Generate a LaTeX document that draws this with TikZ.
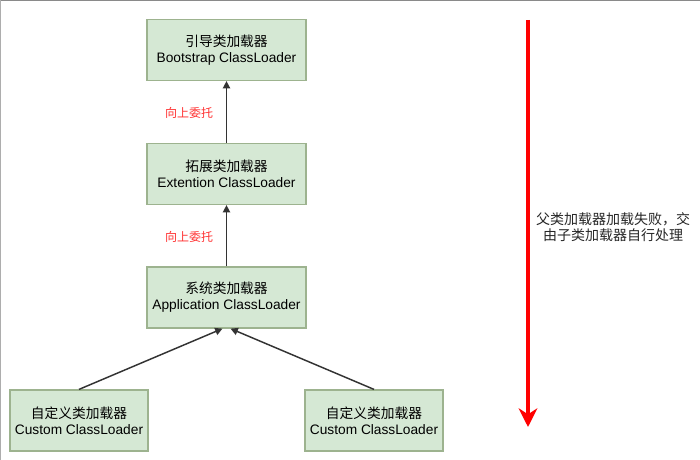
\documentclass[tikz,border=0pt]{standalone}
\usepackage{fontspec}
\setmainfont{Liberation Sans}
\newfontfamily\cjk{Noto Sans CJK SC}
\usetikzlibrary{arrows.meta}
\definecolor{boxfill}{HTML}{D5E8D4}
\definecolor{boxline}{HTML}{9DB38F}
\definecolor{lbl}{HTML}{FF3333}
\definecolor{edge}{HTML}{333333}
\definecolor{frame}{HTML}{8A8A8A}
\begin{document}
\begin{tikzpicture}[x=0.75pt,y=-0.75pt,
  loader/.style={draw=boxline, line width=0.9pt, fill=boxfill, align=center, inner sep=0pt,
    minimum width=159*0.75pt, minimum height=61*0.75pt, font=\fontsize{10.3pt}{12pt}\selectfont},
  small/.style={loader, minimum width=138*0.75pt},
  up/.style={draw=edge, line width=1.1pt, -{Triangle[width=5.5pt,length=5.5pt]}},
  uplabel/.style={text=lbl, font=\cjk\fontsize{9pt}{11pt}\selectfont},
  note/.style={align=center, text=black!85, font=\cjk\fontsize{10.5pt}{11.5pt}\selectfont}]
\useasboundingbox (0,0) rectangle (700,460);
\fill[white] (0,0) rectangle (700,460);
\draw[frame, line width=1.5pt] (0,0.5) -- (700,0.5);
\draw[frame!70, line width=0.75pt] (0.5,0) -- (0.5,460);

\node[loader] (boot) at (226.5,50) {{\cjk 引导类加载器}\\Bootstrap ClassLoader};
\node[loader] (ext) at (226.5,174) {{\cjk 拓展类加载器}\\Extention ClassLoader};
\node[loader] (app) at (226.5,297.5) {{\cjk 系统类加载器}\\Application ClassLoader};
\node[small] (cl) at (79,420.5) {{\cjk 自定义类加载器}\\Custom ClassLoader};
\node[small] (cr) at (374,420.5) {{\cjk 自定义类加载器}\\Custom ClassLoader};

\draw[up] (ext.north) -- (boot.south);
\draw[up] (app.north) -- (ext.south);
\draw[up] (cl.north) -- ([xshift=-3pt]app.south);
\draw[up] (cr.north) -- ([xshift=3pt]app.south);

\node[uplabel] (l1) at (189,113) {向上委托};
\node[uplabel] (l2) at (189,237) {向上委托};

\coordinate (rtop) at (528,20);
\coordinate (rbot) at (528,427);
\draw[red, line width=2.4pt, -{Stealth[width=14pt,length=14pt,inset=4.5pt]}] (rtop) -- (rbot);
\node[note] (txt) at (613,227) {父类加载器加载失败，交\\由子类加载器自行处理};
\end{tikzpicture}
\end{document}
